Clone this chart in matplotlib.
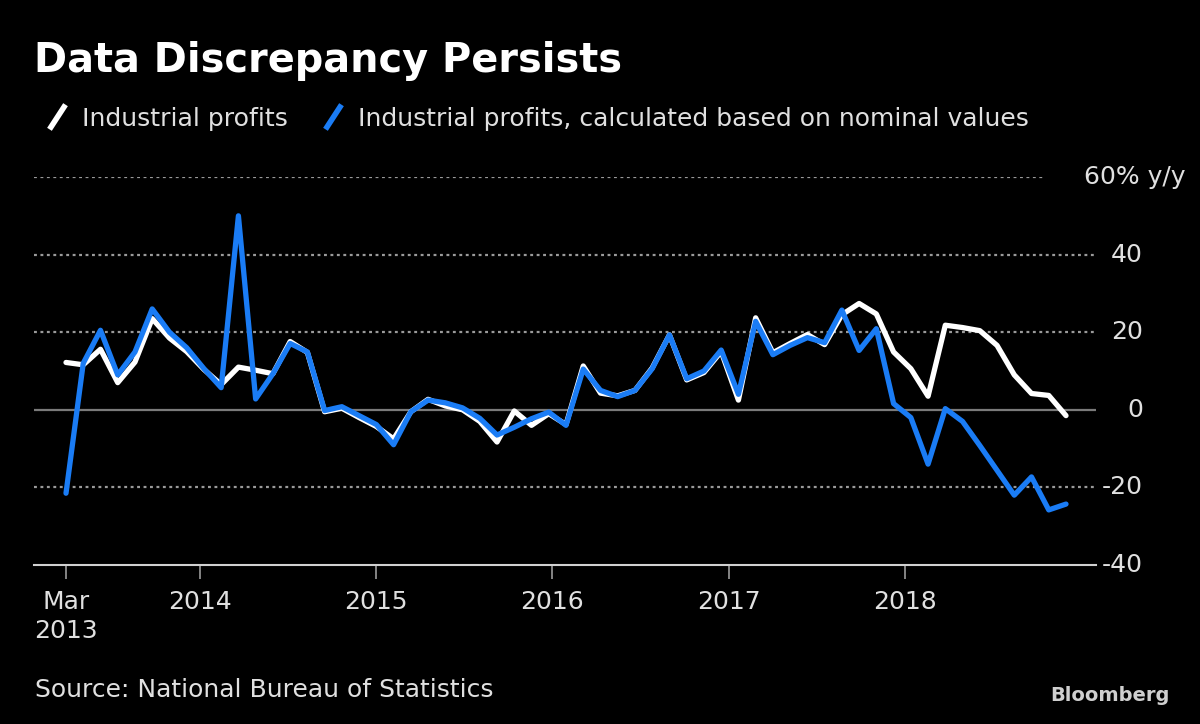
import matplotlib
matplotlib.use("Agg")
import matplotlib.pyplot as plt
from matplotlib.lines import Line2D

# Year-over-year change in industrial profits, %, one value per reading (Mar 2013 - Nov 2018)
PROFITS = [
    12.2, 11.6, 15.6, 7.0, 12.3, 23.5, 18.5, 15.0, 10.4, 6.5,
    11.0, 10.2, 9.3, 17.6, 14.8, -0.5, 0.4, -2.0, -4.3, -7.5,
    -0.5, 2.7, 1.0, 0.0, -3.0, -8.3, -0.3, -4.0, -1.0, -3.8,
    11.3, 4.3, 3.6, 5.0, 10.8, 19.3, 7.7, 9.6, 15.0, 2.5,
    23.7, 14.7, 17.1, 19.4, 16.8, 24.5, 27.4, 24.7, 14.9, 10.6,
    3.5, 21.8, 21.2, 20.4, 16.6, 9.0, 4.2, 3.7, -1.5,
]
PROFITS_NOMINAL = [
    -21.5, 12.0, 20.5, 9.0, 14.9, 26.0, 20.0, 16.0, 10.6, 5.7,
    50.0, 2.8, 9.3, 17.1, 14.9, -0.2, 0.8, -1.5, -3.8, -9.0,
    -0.5, 2.5, 1.8, 0.5, -2.2, -6.5, -4.5, -2.3, -0.6, -4.0,
    10.5, 5.0, 3.4, 5.0, 10.6, 19.3, 8.0, 10.0, 15.4, 4.0,
    22.8, 14.2, 16.6, 18.6, 17.3, 25.7, 15.3, 20.9, 1.6, -2.0,
    -14.0, 0.3, -3.0, -9.2, -15.6, -22.0, -17.3, -25.8, -24.3,
]
X_LABELS = ["Mar\n2013", "2014", "2015", "2016", "2017", "2018"]
X_TICK_POS = [0.0, 7.8, 18.0, 28.2, 38.45, 48.65]
Y_TICKS = [40, 20, 0, -20, -40]
Y_GRID = [60, 40, 20, -20]

WHITE = "#ffffff"
BLUE = "#1a7cf5"
GRID = "#9a9a9a"
LABEL = "#e0e0e0"

plt.rcParams["font.family"] = ["DejaVu Sans"]

W, H = 1200, 724
fig = plt.figure(figsize=(W / 100, H / 100), dpi=100, facecolor="black")
left, right, top, bottom = 33.5, 1096, 177, 565
ax = fig.add_axes([left / W, 1 - bottom / H, (right - left) / W, (bottom - top) / H])
ax.set_facecolor("black")

x = list(range(len(PROFITS)))
ax.plot(x, PROFITS, color=WHITE, lw=3.8, solid_joinstyle="round", solid_capstyle="round", zorder=3)
ax.plot(x, PROFITS_NOMINAL, color=BLUE, lw=3.8, solid_joinstyle="round", solid_capstyle="round", zorder=4)

ax.set_xlim(-1.885, 59.74)
ax.set_ylim(-40, 60)

# dotted gridlines; the top one stops short of the unit label
for v in Y_GRID:
    xmax = (1045 - left) / (right - left) if v == 60 else 1.0
    ax.axhline(v, xmax=xmax, color=GRID, lw=1.6, ls=(0, (1.3, 1.6)), zorder=1)
ax.axhline(0, color="#7a7a7a", lw=1.6, zorder=1)

for s in ["top", "left", "right"]:
    ax.spines[s].set_visible(False)
ax.spines["bottom"].set_color("#d0d0d0")
ax.spines["bottom"].set_linewidth(1.5)

ax.set_yticks([])
ytr = ax.get_yaxis_transform()
for v in Y_TICKS:
    ax.text((1143 - left) / (right - left), v, f"{v}", transform=ytr, ha="right", va="center",
            fontsize=18, color=LABEL)
ax.text((1185 - left) / (right - left), 60, "60% y/y", transform=ytr, ha="right", va="center",
        fontsize=18, color=LABEL)

ax.set_xticks(X_TICK_POS)
ax.set_xticklabels(X_LABELS, linespacing=1.25)
ax.tick_params(axis="x", length=10, width=1.2, color="#9a9a9a", labelcolor=LABEL,
               labelsize=18, pad=8)

# title and legend
fig.text(34 / W, 1 - 72 / H, "Data Discrepancy Persists", fontsize=28.7, weight="bold",
         color=WHITE, va="baseline")
fig.add_artist(Line2D([51 / W, 64 / W], [1 - 127 / H, 1 - 107 / H], color=WHITE, lw=4,
                      transform=fig.transFigure))
fig.text(82 / W, 1 - 126 / H, "Industrial profits", fontsize=18.1, color=LABEL, va="baseline")
fig.add_artist(Line2D([327 / W, 340 / W], [1 - 127 / H, 1 - 107 / H], color=BLUE, lw=4,
                      transform=fig.transFigure))
fig.text(358 / W, 1 - 126 / H, "Industrial profits, calculated based on nominal values",
         fontsize=18.0, color=LABEL, va="baseline")

fig.text(35 / W, 1 - 697 / H, "Source: National Bureau of Statistics", fontsize=18.0,
         color=LABEL, va="baseline")
fig.text(1170 / W, 1 - 701 / H, "Bloomberg", fontsize=14, weight="bold", color="#cfcfcf",
         ha="right", va="baseline")

fig.savefig("out.png", dpi=100, facecolor="black")
